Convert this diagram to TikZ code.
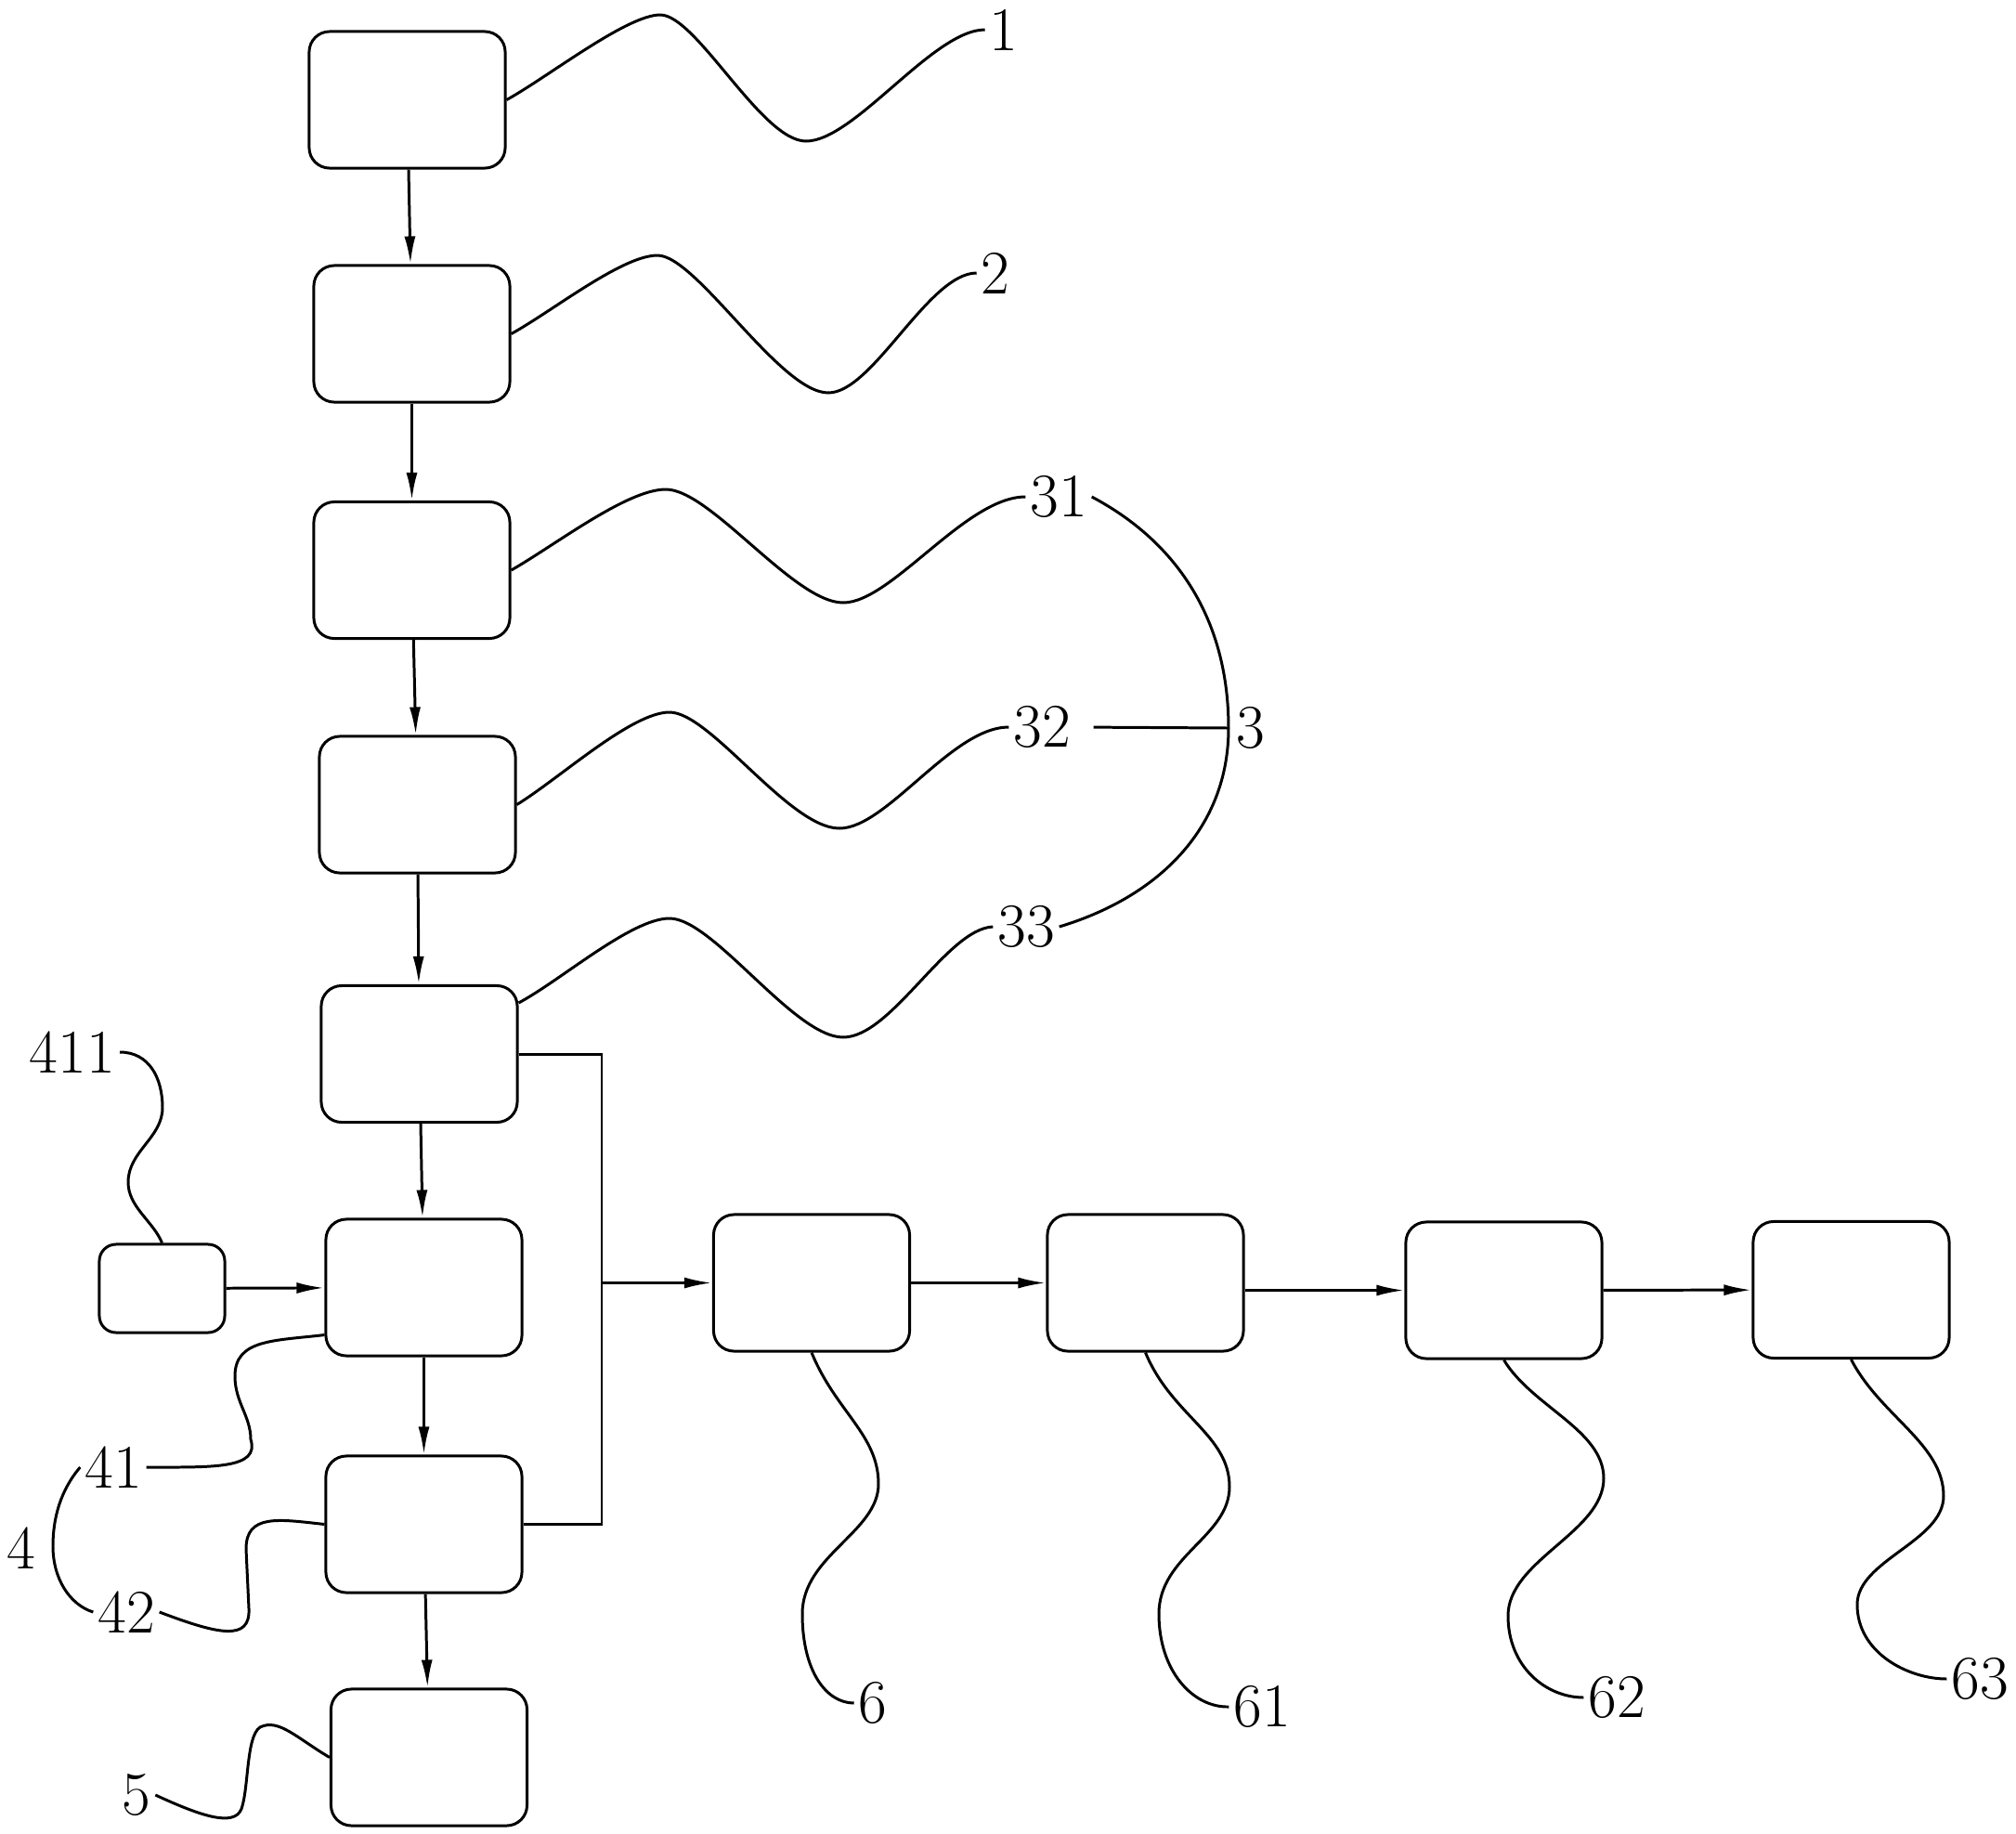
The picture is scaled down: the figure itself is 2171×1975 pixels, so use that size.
\documentclass[tikz,border=0pt]{standalone}
\usepackage{fontspec}
\usetikzlibrary{arrows.meta}
\begin{document}
\begin{tikzpicture}[x=0.01cm, y=-0.01cm, line width=0.85pt,
  bx/.style={draw, rounded corners=2.2mm, minimum width=2.11cm, minimum height=1.47cm, inner sep=0pt},
  sbx/.style={draw, rounded corners=1.8mm, minimum width=1.35cm, minimum height=0.95cm, inner sep=0pt},
  lb/.style={font=\fontsize{19}{19}\selectfont, inner sep=1pt},
  arr/.style={-{Latex[length=3mm, width=1.2mm]}}]
\useasboundingbox (0,0) rectangle (2171,1975);
\node[bx] (bx1) at (438.5,107.5){};
\node[bx] (bx2) at (443.5,359.5){};
\node[bx] (bx31) at (443.5,614){};
\node[bx] (bx32) at (449.5,866.5){};
\node[bx] (bx33) at (451.5,1135){};
\node[bx] (bx41) at (456.5,1386.5){};
\node[sbx] (bx411) at (174.5,1387.5){};
\node[bx] (bx42) at (456.5,1641.5){};
\node[bx] (bx5) at (462,1892.5){};
\node[bx] (bx6) at (874,1381.5){};
\node[bx] (bx61) at (1233.5,1381.5){};
\node[bx] (bx62) at (1619.5,1389.5){};
\node[bx] (bx63) at (1993.5,1389){};
\draw[arr](bx1) -- (bx2);
\draw[arr](bx2) -- (bx31);
\draw[arr](bx31) -- (bx32);
\draw[arr](bx32) -- (bx33);
\draw[arr](bx33) -- (bx41);
\draw[arr](bx41) -- (bx42);
\draw[arr](bx42) -- (bx5);
\draw[arr](bx411) -- (bx41);
\coordinate (bus) at (648,1381.5);
\draw[](bx33.east) -| (bus);
\draw[](bx42.east) -| (bus);
\draw[arr](bus) -- (bx6);
\draw[arr](bx6) -- (bx61);
\draw[arr](bx61.east |- bx62.west) -- (bx62.west);
\draw[arr](bx62) -- (bx63);
% labels
\node[lb] (lb1) at (1081,32){1};
\node[lb] (lb2) at (1072,294){2};
\node[lb] (lb31) at (1140,535){31};
\node[lb] (lb32) at (1122,783){32};
\node[lb] (lb33) at (1105,998){33};
\node[lb] (lb3) at (1347,784){3};
\node[lb] (lb411) at (78,1133){411};
\node[lb] (lb41) at (122,1580){41};
\node[lb] (lb42) at (136,1736){42};
\node[lb] (lb4) at (23,1667){4};
\node[lb] (lb5) at (147,1933){5};
\node[lb] (lb6) at (940,1834){6};
\node[lb] (lb61) at (1359,1838){61};
\node[lb] (lb62) at (1741,1828){62};
\node[lb] (lb63) at (2132,1808){63};
% leaders
\draw[](bx1.east) .. controls (590,83) and (675,16) .. (711,16) .. controls (750,16) and (820,152) .. (868,152) .. controls (920,152) and (1005,32) .. (lb1.west);
\draw[](bx2.east) .. controls (595,335) and (670,275) .. (708,275) .. controls (750,275) and (840,423) .. (892,423) .. controls (940,423) and (1000,294) .. (lb2.west);
\draw[](bx31.east) .. controls (598,587) and (675,527) .. (717,527) .. controls (765,527) and (855,649) .. (908,649) .. controls (960,649) and (1040,535) .. (lb31.west);
\draw[](bx32.east) .. controls (603,838) and (680,767) .. (721,767) .. controls (765,767) and (850,892) .. (904,892) .. controls (955,892) and (1025,783) .. (lb32.west);
\draw[]([yshift=5.5mm]bx33.east) .. controls (605,1055) and (680,989) .. (721,989) .. controls (768,989) and (855,1117) .. (908,1117) .. controls (960,1117) and (1020,1000) .. (lb33.west);
\coordinate (k3) at (1323,784);
\draw[](lb31.east) .. controls (1270,585) and (1323,670) .. (k3) .. controls (1323,890) and (1250,965) .. (lb33.east);
\draw[shorten <=2mm](lb32.east) -- (k3);
\draw[](lb411.east) .. controls (160,1133) and (175,1160) .. (175,1193) .. controls (175,1225) and (138,1240) .. (138,1273) .. controls (138,1300) and (165,1315) .. (bx411.north);
\draw[]([yshift=-5.1mm]bx41.west) .. controls (295,1444) and (253,1442) .. (253,1482) .. controls (253,1510) and (270,1525) .. (270,1550) .. controls (280,1582) and (230,1580) .. (lb41.east);
\draw[](bx42.west) .. controls (300,1636) and (265,1630) .. (265,1668) -- (268,1732) .. controls (270,1768) and (235,1760) .. (lb42.east);
\draw[](lb41.west) .. controls (65,1605) and (57,1635) .. (57,1665) .. controls (57,1700) and (75,1728) .. (lb42.west);
\draw[](bx5.west) .. controls (320,1872) and (300,1850) .. (280,1860) .. controls (265,1870) and (268,1925) .. (260,1948) .. controls (252,1968) and (215,1955) .. (lb5.east);
\draw[](bx6.south) .. controls (900,1520) and (946,1545) .. (946,1598) .. controls (946,1650) and (864,1675) .. (864,1738) .. controls (864,1800) and (890,1834) .. (lb6.west);
\draw[](bx61.south) .. controls (1262,1525) and (1324,1545) .. (1324,1601) .. controls (1324,1655) and (1248,1675) .. (1248,1738) .. controls (1248,1800) and (1285,1839) .. (lb61.west);
\draw[](bx62.south) .. controls (1650,1515) and (1727,1540) .. (1727,1592) .. controls (1727,1650) and (1624,1680) .. (1624,1740) .. controls (1624,1795) and (1665,1828) .. (lb62.west);
\draw[](bx63.south) .. controls (2025,1525) and (2093,1555) .. (2093,1611) .. controls (2093,1660) and (2000,1680) .. (2000,1728) .. controls (2000,1780) and (2055,1808) .. (lb63.west);
\end{tikzpicture}
\end{document}
